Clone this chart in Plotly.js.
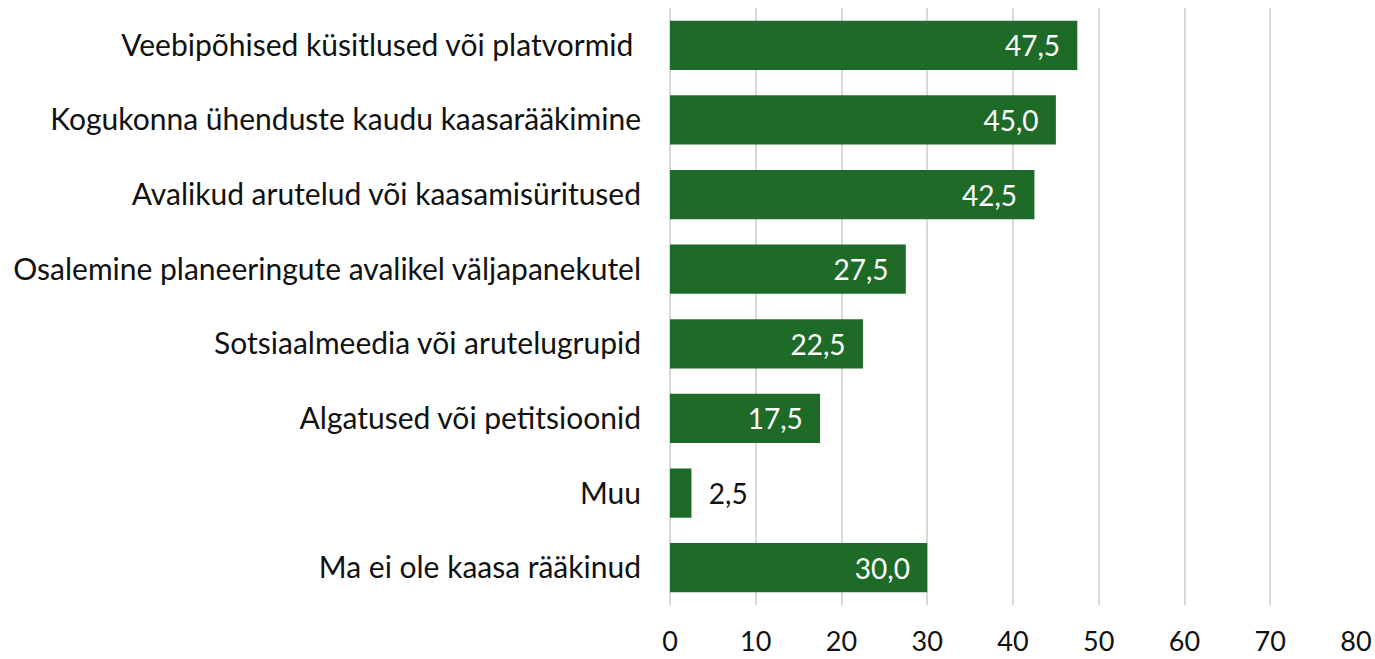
<!DOCTYPE html>
<html>
<head>
<meta charset="utf-8">
<script src="https://cdn.plot.ly/plotly-3.0.1.min.js"></script>
<style>html,body{margin:0;padding:0;background:#fff;}#chart{width:1375px;height:659px;}</style>
</head>
<body>
<div id="chart"></div>
<script>
const categories = [
  "Veebipõhised küsitlused või platvormid ",
  "Kogukonna ühenduste kaudu kaasarääkimine",
  "Avalikud arutelud või kaasamisüritused",
  "Osalemine planeeringute avalikel väljapanekutel",
  "Sotsiaalmeedia või arutelugrupid",
  "Algatused või petitsioonid",
  "Muu",
  "Ma ei ole kaasa rääkinud"
];
const values = [47.5, 45.0, 42.5, 27.5, 22.5, 17.5, 2.5, 30.0];
const tickValues = [0, 10, 20, 30, 40, 50, 60, 70, 80];

const NB = '\u00a0';
const isInside = values.map(v => v >= 10);
const labels = values.map((v, i) => {
  const s = v.toFixed(1).replace('.', ',');
  return isInside[i] ? s + NB + NB : NB + NB + s;
});
const FONT = 'Lato, "Open Sans", sans-serif';

const trace = {
  type: 'bar',
  orientation: 'h',
  y: categories,
  x: values,
  text: labels,
  textposition: isInside.map(b => b ? 'inside' : 'outside'),
  insidetextanchor: 'end',
  insidetextfont: {color: '#ffffff', size: 28, family: FONT},
  outsidetextfont: {color: '#111111', size: 28, family: FONT},
  textfont: {size: 28, family: FONT},
  marker: {color: '#1d6b27'},
  cliponaxis: false,
  hoverinfo: 'none'
};

const layout = {
  width: 1375,
  height: 659,
  margin: {l: 670, r: 19, t: 8, b: 54},
  paper_bgcolor: '#ffffff',
  plot_bgcolor: '#ffffff',
  showlegend: false,
  bargap: 0.34,
  uniformtext: {mode: false},
  font: {family: FONT, color: '#111111', size: 28},
  xaxis: {
    range: [0, 80],
    tickvals: tickValues,
    ticktext: tickValues.map(String),
    showgrid: true,
    gridcolor: '#d9d9d9',
    gridwidth: 2,
    zeroline: true,
    zerolinecolor: '#d9d9d9',
    zerolinewidth: 2,
    showline: false,
    ticks: '',
    ticklabelstandoff: 18,
    tickfont: {size: 27, family: FONT, color: '#111111'},
    fixedrange: true
  },
  yaxis: {
    autorange: 'reversed',
    showgrid: false,
    zeroline: false,
    showline: false,
    ticks: '',
    ticklabelstandoff: 28,
    tickfont: {size: 30, family: FONT, color: '#111111'},
    fixedrange: true
  }
};

Plotly.newPlot('chart', [trace], layout, {displayModeBar: false, staticPlot: true});
</script>
</body>
</html>
